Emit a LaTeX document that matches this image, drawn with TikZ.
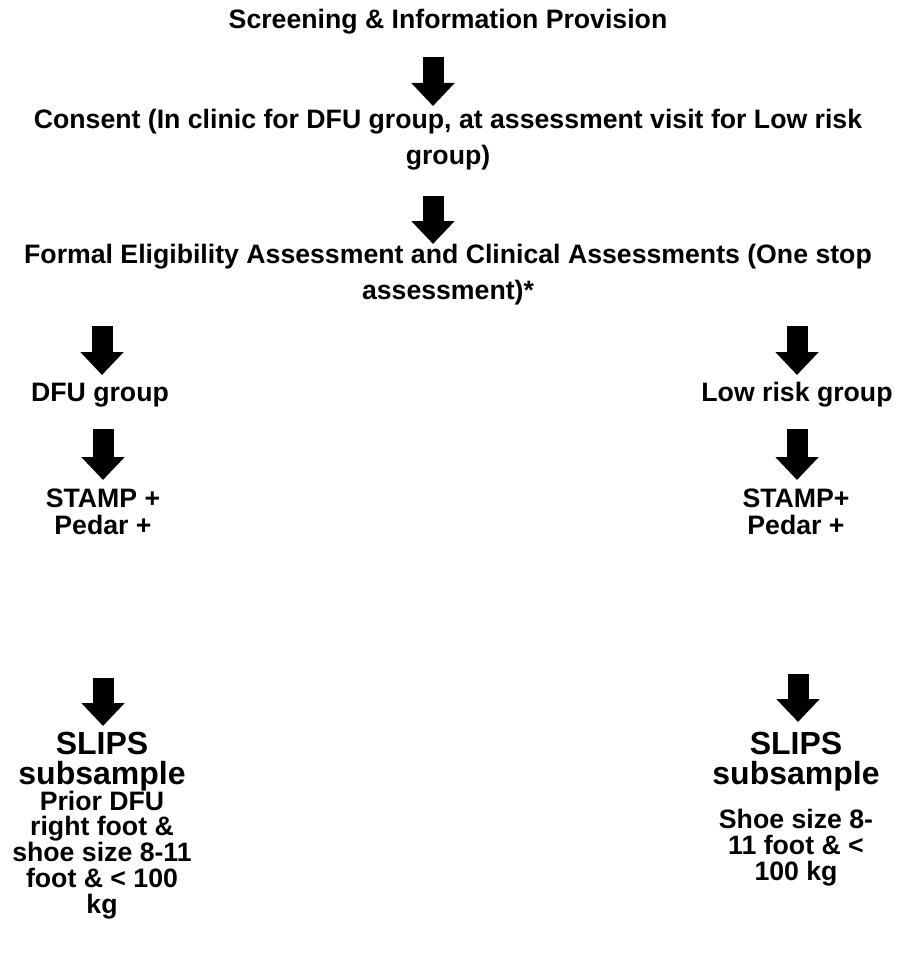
\documentclass[tikz,border=0pt]{standalone}
\usepackage{fontspec}
\setmainfont{Liberation Sans}
\usetikzlibrary{arrows.meta}
\tikzset{
  txt/.style={inner sep=0pt, anchor=base, align=center, font=\fontsize{20}{19.3}\selectfont\bfseries},
  toptxt/.style={txt, font=\fontsize{20}{27}\selectfont\bfseries},
  bigtxt/.style={txt, font=\fontsize{24}{22.5}\selectfont\bfseries},
  blockarrow/.style={line width=15.75pt, line cap=butt, -{Triangle[width=31.5pt, length=17.25pt]}}
}
\begin{document}
\begin{tikzpicture}[x=0.75pt, y=-0.75pt]
			%%%%% START %%%%%
			\useasboundingbox (0,0) rectangle (896,956);
			
			% (base = baseline of the last line)
			\node[toptxt] (screen) at (448, 29) {Screening \& Information Provision};
			\node[toptxt] (consent) at (448, 164) {Consent (In clinic for DFU group, at assessment visit for Low risk\\group)};
			\node[toptxt] (formal) at (448, 299) {Formal Eligibility Assessment and Clinical Assessments (One stop\\assessment)*};
			
			\node[txt] (dfu) at (100, 401) {DFU group};
			\node[txt] (low) at (797, 401) {Low risk group};
			
			\node[txt, font=\fontsize{20}{20.25}\selectfont\bfseries] (stampL) at (103, 534) {STAMP +\\Pedar +};
			\node[txt, font=\fontsize{20}{20.25}\selectfont\bfseries] (stampR) at (796, 534) {STAMP+\\Pedar +};
			
			\node[bigtxt] (slipsL) at (102, 784) {SLIPS\\subsample};
			\node[txt] (critL) at (102, 913) {Prior DFU\\right foot \&\\shoe size 8-11\\foot \& < 100\\kg};
			
			\node[bigtxt] (slipsR) at (796, 784) {SLIPS\\subsample};
			\node[txt] (critR) at (796, 880) {Shoe size 8-\\11 foot \& <\\100 kg};
			
			% arrow ends
			\coordinate (a1s) at (433, 57);   \coordinate (a1e) at (433, 106);
			\coordinate (a2s) at (433, 196);  \coordinate (a2e) at (433, 244);
			\coordinate (a3s) at (102, 326);  \coordinate (a3e) at (102, 375);
			\coordinate (a4s) at (797, 326);  \coordinate (a4e) at (797, 375);
			\coordinate (a5s) at (103, 429);  \coordinate (a5e) at (103, 480);
			\coordinate (a6s) at (797, 429);  \coordinate (a6e) at (797, 480);
			\coordinate (a7s) at (103, 678);  \coordinate (a7e) at (103, 726);
			\coordinate (a8s) at (798, 674);  \coordinate (a8e) at (798, 722);
			
			\foreach \n in {1,...,8}
				\draw[blockarrow] (a\n s) -- (a\n e);
			
			%%%%% END %%%%%
\end{tikzpicture}
\end{document}
